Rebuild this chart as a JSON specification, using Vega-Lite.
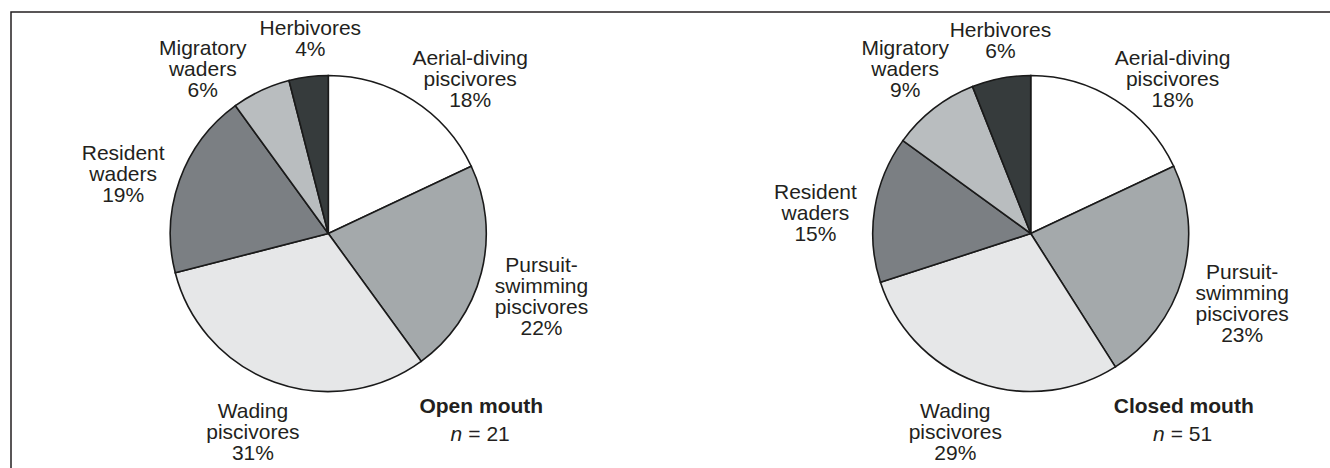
{
  "$schema": "https://vega.github.io/schema/vega-lite/v6.json",
  "width": 1337,
  "height": 480,
  "autosize": "none",
  "padding": {"left": 11, "top": 12, "right": 0, "bottom": 0},
  "background": "white",
  "config": {
    "view": {"stroke": "#231f20", "strokeWidth": 1.5},
    "text": {"font": "Liberation Sans", "fontSize": 21, "fill": "#231f20"}
  },
  "datasets": {
    "slices": [
      {"group": "Open mouth", "cat": "Aerial-diving|piscivores", "pct": 18, "rank": 1},
      {"group": "Open mouth", "cat": "Pursuit-|swimming|piscivores", "pct": 22, "rank": 2},
      {"group": "Open mouth", "cat": "Wading|piscivores", "pct": 31, "rank": 3},
      {"group": "Open mouth", "cat": "Resident|waders", "pct": 19, "rank": 4},
      {"group": "Open mouth", "cat": "Migratory|waders", "pct": 6, "rank": 5},
      {"group": "Open mouth", "cat": "Herbivores", "pct": 4, "rank": 6},
      {"group": "Closed mouth", "cat": "Aerial-diving|piscivores", "pct": 18, "rank": 1},
      {"group": "Closed mouth", "cat": "Pursuit-|swimming|piscivores", "pct": 23, "rank": 2},
      {"group": "Closed mouth", "cat": "Wading|piscivores", "pct": 29, "rank": 3},
      {"group": "Closed mouth", "cat": "Resident|waders", "pct": 15, "rank": 4},
      {"group": "Closed mouth", "cat": "Migratory|waders", "pct": 9, "rank": 5},
      {"group": "Closed mouth", "cat": "Herbivores", "pct": 6, "rank": 6}
    ],
    "captions": [
      {"group": "Open mouth", "n": 21},
      {"group": "Closed mouth", "n": 51}
    ]
  },
  "encoding": {
    "x": {"field": "group", "type": "nominal", "scale": {"type": "point", "domain": ["Open mouth", "Closed mouth"], "padding": 0.4517}, "axis": null},
    "y": {"datum": "pie", "type": "nominal", "scale": {"type": "point", "align": 0.4615}, "axis": null}
  },
  "layer": [
    {
      "data": {"name": "slices"},
      "transform": [
        {"stack": "pct", "groupby": ["group"], "sort": [{"field": "rank", "order": "ascending"}], "as": ["start", "end"]}
      ],
      "mark": {"type": "arc", "radius": 158, "stroke": "#1a1a1a", "strokeWidth": 1.6},
      "encoding": {
        "theta": {"field": "start", "type": "quantitative", "scale": {"domain": [0, 100]}},
        "theta2": {"field": "end"},
        "color": {
          "field": "cat",
          "type": "nominal",
          "scale": {
            "domain": ["Aerial-diving|piscivores", "Pursuit-|swimming|piscivores", "Wading|piscivores", "Resident|waders", "Migratory|waders", "Herbivores"],
            "range": ["#ffffff", "#a4a9ab", "#e6e7e8", "#7b7f83", "#b9bdbf", "#363b3c"]
          },
          "legend": null
        }
      }
    },
    {
      "data": {"name": "slices"},
      "transform": [
        {"stack": "pct", "groupby": ["group"], "sort": [{"field": "rank", "order": "ascending"}], "as": ["start", "end"]},
        {"calculate": "(datum.start + datum.end) / 2", "as": "mid"},
        {"calculate": "datum.cat + '|' + datum.pct + '%'", "as": "label"}
      ],
      "encoding": {
        "theta": {"field": "mid", "type": "quantitative"},
        "text": {"field": "label"}
      },
      "layer": [
        {
          "transform": [{"filter": "datum.cat === 'Aerial-diving|piscivores'"}],
          "mark": {"type": "text", "radius": 220, "dx": 24, "dy": 17, "align": "center", "baseline": "alphabetic", "lineHeight": 21, "lineBreak": "|"}
        },
        {
          "transform": [{"filter": "datum.cat === 'Pursuit-|swimming|piscivores'"}],
          "mark": {"type": "text", "radius": 215, "dx": 5, "dy": -15, "align": "center", "baseline": "alphabetic", "lineHeight": 21, "lineBreak": "|"}
        },
        {
          "transform": [{"filter": "datum.cat === 'Wading|piscivores'"}],
          "mark": {"type": "text", "radius": 196, "dx": -9, "dy": 0, "align": "center", "baseline": "alphabetic", "lineHeight": 21, "lineBreak": "|"}
        },
        {
          "transform": [{"filter": "datum.cat === 'Resident|waders'"}],
          "mark": {"type": "text", "radius": 218, "dx": 0, "dy": 0, "align": "center", "baseline": "alphabetic", "lineHeight": 21, "lineBreak": "|"}
        },
        {
          "transform": [{"filter": "datum.cat === 'Migratory|waders'"}],
          "mark": {"type": "text", "radius": 0, "dx": -125.5, "dy": -178.5, "align": "center", "baseline": "alphabetic", "lineHeight": 21, "lineBreak": "|"}
        },
        {
          "transform": [{"filter": "datum.cat === 'Herbivores'"}],
          "mark": {"type": "text", "radius": 199, "dx": 7, "dy": -1, "align": "center", "baseline": "alphabetic", "lineHeight": 21, "lineBreak": "|"}
        }
      ]
    },
    {
      "data": {"name": "captions"},
      "layer": [
        {
          "mark": {"type": "text", "dx": 153, "dy": 179.5, "fontWeight": "bold", "align": "center", "baseline": "alphabetic"},
          "encoding": {"text": {"field": "group"}}
        },
        {
          "mark": {"type": "text", "dx": 134, "dy": 207.5, "fontStyle": "italic", "align": "right", "baseline": "alphabetic"},
          "encoding": {"text": {"value": "n"}}
        },
        {
          "transform": [{"calculate": "'= ' + datum.n", "as": "nText"}],
          "mark": {"type": "text", "dx": 140, "dy": 207.5, "align": "left", "baseline": "alphabetic"},
          "encoding": {"text": {"field": "nText"}}
        }
      ]
    }
  ]
}
